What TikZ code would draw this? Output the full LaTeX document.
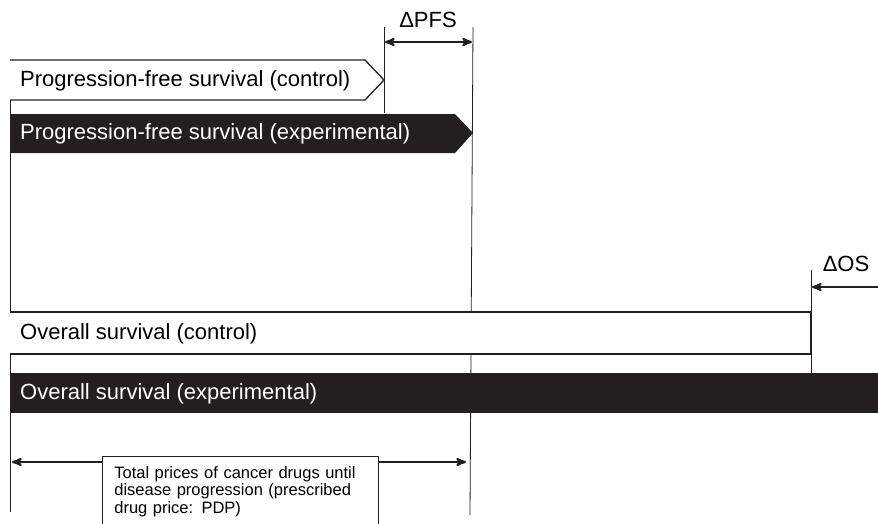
\documentclass[tikz,border=0pt]{standalone}
\usepackage{fontspec}
\setmainfont{Liberation Sans}
\usetikzlibrary{arrows}
\usetikzlibrary{positioning}

\definecolor{barblack}{RGB}{35,31,32}

\begin{document}
\begin{tikzpicture}[x=1pt,y=-1pt,>=stealth',line join=miter]
        \tikzset{
            bartext/.style={anchor=west,inner sep=0pt,font=\fontsize{22}{26}\selectfont},
            guide/.style={line width=0.8pt,barblack},
            dimarrow/.style={line width=2.2pt,barblack},
            outlinebar/.style={line width=1.3pt,draw=barblack,fill=white},
        }
            \useasboundingbox (0,0) rectangle (878,523);
            \clip (0,0) rectangle (878,523);

            % Time axis on the left
            \coordinate (axtop) at (10,60);
            \coordinate (axbot) at (10,512);
            \draw[guide] (axtop) -- (axbot);

            % Progression-free survival bars
            \draw[outlinebar] (10,60) -- (365,60) -- (384,80) -- (365,100) -- (10,100);
            \coordinate (pfsc) at (384,80);
            \node[bartext] (pfsctext) at (20,81) {Progression-free survival (control)};

            \fill[barblack] (10,114) -- (455,114) -- (473,133) -- (455,153) -- (10,153) -- cycle;
            \coordinate (pfse) at (473,133);
            \node[bartext,text=white] (pfsetext) at (20,134) {Progression-free survival (experimental)};

            % Delta PFS
            \coordinate (pfsctop) at (384,27);
            \coordinate (pfscbot) at (384,113);
            \coordinate (pfsetop) at (473,27);
            \coordinate (pfsebot) at (470,515);
            \draw[guide] (pfsctop) -- (pfscbot);
            \draw[guide] (pfsetop) -- (pfsebot);
            \coordinate (dpfsl) at (385,42);
            \coordinate (dpfsr) at (472,42);
            \draw[dimarrow,<->] (dpfsl) -- (dpfsr);
            \node[font=\fontsize{22}{26}\selectfont] (dpfs) at (428,20) {ΔPFS};

            % Overall survival bars
            \draw[outlinebar] (10,312) -- (811,312) -- (811,354) -- (10,354);
            \node[bartext] (osctext) at (20,334) {Overall survival (control)};

            \fill[barblack] (10,373) rectangle (878,413);
            \node[bartext,text=white] (osetext) at (20,394) {Overall survival (experimental)};

            % Delta OS
            \coordinate (osctop) at (811,270);
            \coordinate (oscbot) at (811,373);
            \draw[guide] (osctop) -- (oscbot);
            \coordinate (dosr) at (878,287);
            \coordinate (dosl) at (812,287);
            \draw[dimarrow,->] (dosr) -- (dosl);
            \node[font=\fontsize{22}{26}\selectfont] (dos) at (846,264) {ΔOS};

            % Drug price until progression
            \node[draw=barblack,line width=0.8pt,anchor=north west,align=left,
                  text width=252pt,inner xsep=12pt,inner ysep=10pt,
                  font=\fontsize{16.5}{17.5}\selectfont] (pdp) at (102,456)
                  {Total prices of cancer drugs until\\disease progression (prescribed\\drug price: PDP)};
            \coordinate (pdpl) at (12,462);
            \coordinate (pdpr) at (466,462);
            \draw[dimarrow,->] (pdp.west |- pdpl) -- (pdpl);
            \draw[dimarrow,->] (pdp.east |- pdpr) -- (pdpr);

        \end{tikzpicture}
\end{document}
